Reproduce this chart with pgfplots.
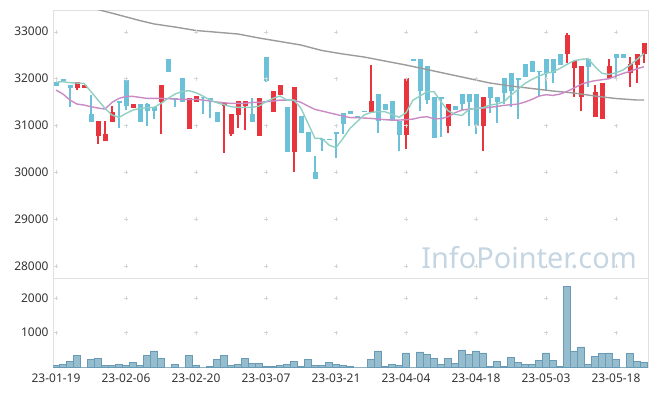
\documentclass[border=0pt]{standalone}
\usepackage{fontspec}
\setmainfont{Noto Sans}
\usepackage{pgfplots}
\usepackage{pgfplotstable}
\pgfplotsset{compat=1.18}

\definecolor{upc}{RGB}{232,52,60}
\definecolor{dnc}{RGB}{108,193,216}
\definecolor{maA}{RGB}{143,207,196}
\definecolor{maB}{RGB}{201,138,198}
\definecolor{maC}{RGB}{155,155,155}
\definecolor{volf}{RGB}{150,189,206}
\definecolor{vold}{RGB}{105,155,182}
\definecolor{framec}{RGB}{224,224,224}
\definecolor{gridp}{RGB}{214,214,214}
\definecolor{wm}{RGB}{197,214,226}
\definecolor{lab}{RGB}{51,51,51}

\pgfplotstableread{
i o h l c
3 31810 31920 31760 31920
4 31810 31860 31810 31860
6 30780 31090 30610 31090
7 30680 31090 30680 30830
8 31080 31420 31080 31280
11 31380 31470 31380 31470
15 31510 31860 30830 31860
19 30930 31590 30930 31590
20 31510 31630 31510 31630
24 31420 31480 30410 31480
25 30820 31250 30780 31250
26 31230 31520 30940 31520
27 31420 31520 30900 31520
29 30780 31590 30780 31590
31 31280 31740 31280 31740
32 31660 31860 31660 31860
34 30440 31820 30000 31820
45 31290 32300 31290 31520
50 30800 32010 30490 32010
56 30990 31460 30850 31460
61 30990 31600 30460 31600
73 32520 32970 32330 32930
74 32220 32380 31610 32380
75 31600 32270 31320 32270
77 31190 31860 31190 31710
78 31150 31900 31150 31900
79 32010 32410 32010 32270
82 32110 32470 31830 32310
83 32290 32530 31900 32530
84 32520 32770 32330 32770
}\upcandles

\pgfplotstableread{
i o h l c
0 31930 31930 31850 31850
1 32000 32000 31950 31950
2 31860 31860 31390 31810
5 31240 31660 31080 31080
9 31520 31520 30940 31500
10 31970 31970 31330 31410
12 31470 31470 31080 31080
13 31470 31470 30980 31310
14 31390 31390 31130 31320
16 32420 32420 32150 32150
17 31580 31580 31390 31570
18 32010 32010 31510 31510
21 31610 31610 31240 31590
22 31580 31580 31170 31560
23 31290 31290 31080 31080
28 31250 31580 31080 31080
30 32460 32460 31920 31950
33 31390 31390 30440 30440
35 31200 31200 30850 30850
36 30860 30860 30440 30440
37 30010 30350 29850 29850
38 30710 30710 30460 30700
39 30710 30710 30700 30700
40 30850 30850 30310 30840
41 31260 31260 30830 31040
42 31310 31310 31250 31250
43 31200 31200 31180 31180
44 31310 31310 31300 31300
46 31670 31670 30850 31100
47 31460 31460 31330 31330
48 31520 31520 31100 31100
49 31100 31100 30460 30800
51 32410 32410 32400 32400
52 32420 32420 31320 31740
53 32270 32270 31460 31540
54 31610 31610 30740 30740
55 31600 31600 30760 31590
57 31420 31420 31330 31330
58 31670 31670 31330 31450
59 31670 31670 30990 31510
60 31670 31670 30810 30990
62 31820 31820 31260 31590
63 31610 31610 31050 31510
64 32010 32010 31450 31700
65 32120 32120 31400 31740
66 32000 32000 31150 31990
67 32310 32310 32040 32040
68 32380 32380 32150 32150
69 32160 32160 31620 32150
70 32420 32420 31760 32110
71 32420 32420 31900 32110
72 32530 32530 32290 32290
76 32420 32420 31820 32250
80 32530 32530 31990 32450
81 32530 32530 32450 32450
}\dncandles

\pgfplotstableread{
i v
0 31927
1 31934
2 31913
3 31906
4 31899
5 31721
6 31543
7 31366
8 31223
9 31174
10 31259
11 31330
12 31366
13 31380
14 31387
15 31472
16 31579
17 31671
18 31728
19 31742
20 31700
21 31628
22 31543
23 31486
24 31444
25 31401
26 31387
27 31387
28 31387
29 31415
30 31508
31 31579
32 31628
33 31543
34 31543
35 31366
36 31046
37 30726
38 30726
39 30584
40 30527
41 30726
42 30939
43 31081
44 31223
45 31280
46 31295
47 31295
48 31238
49 31174
50 31273
51 31543
52 31628
53 31721
54 31721
55 31508
56 31316
57 31238
58 31216
59 31344
60 31366
61 31380
62 31437
63 31458
64 31508
65 31650
66 31771
67 31899
68 31984
69 32055
70 32112
71 32147
72 32218
73 32304
74 32382
75 32410
76 32425
77 32254
78 32112
79 32090
80 32126
81 32183
82 32290
83 32410
84 32538
}\maA

\pgfplotstableread{
i v
0 31757
1 31671
2 31543
3 31458
4 31437
5 31401
6 31373
7 31351
8 31494
9 31579
10 31621
11 31621
12 31600
13 31579
14 31579
15 31579
16 31572
17 31565
18 31558
19 31558
20 31558
21 31543
22 31522
23 31501
24 31486
25 31472
26 31472
27 31472
28 31494
29 31494
30 31508
31 31522
32 31543
33 31543
34 31543
35 31494
36 31415
37 31344
38 31309
39 31273
40 31238
41 31202
42 31170
43 31167
44 31160
45 31152
46 31138
47 31124
48 31117
49 31117
50 31124
51 31138
52 31174
53 31188
54 31145
55 31145
56 31188
57 31273
58 31330
59 31351
60 31366
61 31373
62 31387
63 31408
64 31430
65 31444
66 31458
67 31501
68 31558
69 31628
70 31657
71 31643
72 31671
73 31728
74 31799
75 31877
76 31927
77 31956
78 31977
79 31998
80 32055
81 32112
82 32154
83 32211
84 32254
}\maB

\pgfplotstableread{
i v
0 33712
3 33593
6 33473
9 33356
12 33237
14 33166
17 33100
20 33026
23 32989
26 32951
29 32866
32 32791
35 32716
38 32599
41 32525
44 32461
47 32375
50 32290
53 32194
56 32098
59 32002
62 31906
65 31842
68 31789
71 31736
74 31693
77 31629
80 31576
83 31544
84 31544
}\maC

\pgfplotstableread{
i v
0 38
1 67
2 153
3 344
4 0
5 210
6 239
7 57
8 57
9 86
10 57
11 144
12 57
13 344
14 469
15 258
16 0
17 86
18 0
19 344
20 57
21 0
22 29
23 230
24 344
25 57
26 86
27 258
28 115
29 115
30 29
31 29
32 57
33 86
34 172
35 29
36 210
37 57
38 57
39 144
40 86
41 57
42 29
43 0
44 0
45 210
46 469
47 29
48 86
49 57
50 411
51 0
52 440
53 354
54 239
55 86
56 239
57 115
58 498
59 354
60 469
61 411
62 29
63 153
64 29
65 268
66 124
67 86
68 86
69 182
70 411
71 182
72 29
73 2335
74 469
75 584
76 86
77 297
78 383
79 411
80 210
81 0
82 383
83 153
84 124
}\vol

\pgfplotsset{
  common/.style={
    scale only axis, width=595bp,
    xmin=-0.43, xmax=84.57,
    axis line style={framec},
    major tick length=0pt,
    xtick={0,10,...,80},
    scaled y ticks=false, scaled x ticks=false,
    tick label style={font=\fontsize{12}{14}\selectfont, text=lab},
    yticklabel style={xshift=-1bp},
    xticklabel style={yshift=-3bp},
    /pgf/number format/assume math mode=true,
    /pgf/number format/1000 sep={},
  },
  wick/.style={draw=none, forget plot, error bars/.cd, y dir=both, y explicit,
    error mark=none, error bar style={draw=#1, line width=1.3bp}},
  body/.style={draw=none, forget plot, error bars/.cd, y dir=both, y explicit,
    error mark=none, error bar style={draw=#1, line width=5bp}},
}

\begin{document}
\begin{tikzpicture}
\begin{axis}[common, at={(53bp,-10bp)}, anchor=north west, height=268bp,
  ymin=27750, ymax=33463, ytick={28000,29000,...,33000}, xticklabels={}]
  \pgfplotsinvokeforeach{0,10,...,80}{
    \addplot[only marks, mark=+, mark size=2bp, gridp, forget plot] coordinates {(#1,28000) (#1,29000) (#1,30000) (#1,31000) (#1,32000) (#1,33000)};
  }
  \node[anchor=base east, text=wm, font=\fontsize{29}{30}\selectfont] at (rel axis cs:0.987,0.037) {InfoPointer.com};
  \addplot[wick=upc] table[x=i, y expr={(\thisrow{h}+\thisrow{l})/2}, y error expr={(\thisrow{h}-\thisrow{l})/2}] {\upcandles};
  \addplot[wick=dnc] table[x=i, y expr={(\thisrow{h}+\thisrow{l})/2}, y error expr={(\thisrow{h}-\thisrow{l})/2}] {\dncandles};
  \addplot[body=upc] table[x=i, y expr={(\thisrow{o}+\thisrow{c})/2}, y error expr={max(abs(\thisrow{o}-\thisrow{c})/2,15)}] {\upcandles};
  \addplot[body=dnc] table[x=i, y expr={(\thisrow{o}+\thisrow{c})/2}, y error expr={max(abs(\thisrow{o}-\thisrow{c})/2,15)}] {\dncandles};
  \addplot[maC, line width=1.4bp, no marks] table[x=i, y=v] {\maC};
  \addplot[maB, line width=1.4bp, no marks] table[x=i, y=v] {\maB};
  \addplot[maA, line width=1.4bp, no marks] table[x=i, y=v] {\maA};
\end{axis}
\begin{axis}[common, at={(53bp,-278bp)}, anchor=north west, height=89bp,
  ymin=0, ymax=2580, ytick={1000,2000},
  xticklabels={23-01-19,23-02-06,23-02-20,23-03-07,23-03-21,23-04-04,23-04-18,23-05-03,23-05-18}]
  \pgfplotsinvokeforeach{0,10,...,80}{
    \addplot[only marks, mark=+, mark size=2bp, gridp, forget plot] coordinates {(#1,1000) (#1,2000)};
  }
  \addplot[ybar, bar width=7bp, bar shift=0pt, fill=volf, draw=vold, line width=0.6bp] table[x=i, y=v] {\vol};
\end{axis}
\pgfresetboundingbox
\useasboundingbox (0,0) rectangle (657bp,-396bp);
\end{tikzpicture}
\end{document}
